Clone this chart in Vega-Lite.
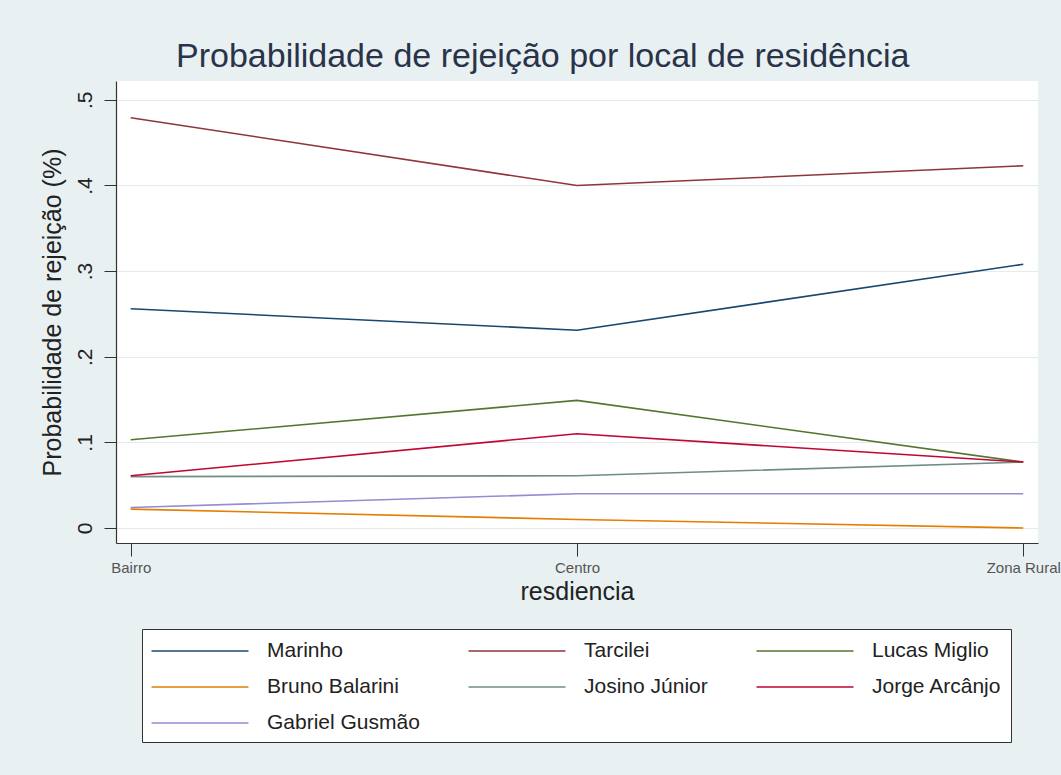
{
  "$schema": "https://vega.github.io/schema/vega-lite/v6.json",
  "autosize": {"type": "none"},
  "width": 922,
  "height": 462,
  "padding": {"left": 116, "top": 81, "right": 23, "bottom": 232},
  "background": "#e8f0f2",
  "config": {
    "font": "Liberation Sans",
    "view": {"fill": "white", "stroke": null}
  },
  "title": {
    "text": "Probabilidade de rejeição por local de residência",
    "fontSize": 34,
    "fontWeight": "normal",
    "color": "#29334a",
    "anchor": "start",
    "frame": "group",
    "dx": 60,
    "offset": 7
  },
  "data": {
    "values": [
      {"candidato": "Marinho", "residencia": "Bairro", "prob": 0.256},
      {"candidato": "Marinho", "residencia": "Centro", "prob": 0.231},
      {"candidato": "Marinho", "residencia": "Zona Rural", "prob": 0.308},
      {"candidato": "Tarcilei", "residencia": "Bairro", "prob": 0.479},
      {"candidato": "Tarcilei", "residencia": "Centro", "prob": 0.4},
      {"candidato": "Tarcilei", "residencia": "Zona Rural", "prob": 0.423},
      {"candidato": "Lucas Miglio", "residencia": "Bairro", "prob": 0.103},
      {"candidato": "Lucas Miglio", "residencia": "Centro", "prob": 0.149},
      {"candidato": "Lucas Miglio", "residencia": "Zona Rural", "prob": 0.077},
      {"candidato": "Bruno Balarini", "residencia": "Bairro", "prob": 0.022},
      {"candidato": "Bruno Balarini", "residencia": "Centro", "prob": 0.01},
      {"candidato": "Bruno Balarini", "residencia": "Zona Rural", "prob": 0.0},
      {"candidato": "Josino Júnior", "residencia": "Bairro", "prob": 0.06},
      {"candidato": "Josino Júnior", "residencia": "Centro", "prob": 0.061},
      {"candidato": "Josino Júnior", "residencia": "Zona Rural", "prob": 0.077},
      {"candidato": "Jorge Arcânjo", "residencia": "Bairro", "prob": 0.061},
      {"candidato": "Jorge Arcânjo", "residencia": "Centro", "prob": 0.11},
      {"candidato": "Jorge Arcânjo", "residencia": "Zona Rural", "prob": 0.077},
      {"candidato": "Gabriel Gusmão", "residencia": "Bairro", "prob": 0.024},
      {"candidato": "Gabriel Gusmão", "residencia": "Centro", "prob": 0.04},
      {"candidato": "Gabriel Gusmão", "residencia": "Zona Rural", "prob": 0.04}
    ]
  },
  "mark": {"type": "line", "strokeWidth": 1.6},
  "encoding": {
    "x": {
      "field": "residencia",
      "type": "ordinal",
      "scale": {"type": "point", "padding": 0.033},
      "axis": {
        "title": "resdiencia",
        "titleFontSize": 25,
        "titleFontWeight": "normal",
        "titleColor": "#222222",
        "titlePadding": 4,
        "labelAngle": 0,
        "labelFontSize": 15,
        "labelColor": "#555555",
        "labelPadding": 4,
        "tickSize": 13,
        "tickColor": "#333333",
        "domainColor": "#333333",
        "domainWidth": 1.2,
        "grid": false
      }
    },
    "y": {
      "field": "prob",
      "type": "quantitative",
      "scale": {"domain": [-0.0175, 0.522], "nice": false, "zero": false},
      "axis": {
        "title": "Probabilidade de rejeição (%)",
        "titleFontSize": 25,
        "titleFontWeight": "normal",
        "titleColor": "#222222",
        "titlePadding": 9,
        "values": [0, 0.1, 0.2, 0.3, 0.4, 0.5],
        "labelExpr": "datum.value === 0 ? '0' : replace(format(datum.value, '.1f'), '0.', '.')",
        "labelAngle": -90,
        "labelAlign": "center",
        "labelBaseline": "bottom",
        "labelFontSize": 21,
        "labelColor": "#222222",
        "labelPadding": 9,
        "tickSize": 12,
        "tickColor": "#333333",
        "domainColor": "#333333",
        "domainWidth": 1.2,
        "grid": true,
        "gridColor": "#e3ebee",
        "gridWidth": 1
      }
    },
    "color": {
      "field": "candidato",
      "type": "nominal",
      "scale": {
        "domain": ["Marinho", "Tarcilei", "Lucas Miglio", "Bruno Balarini", "Josino Júnior", "Jorge Arcânjo", "Gabriel Gusmão"],
        "range": ["#1a476f", "#90353b", "#55752f", "#e37e00", "#6e8e84", "#c10534", "#938dd2"]
      },
      "legend": {
        "title": null,
        "orient": "none",
        "legendX": 26,
        "legendY": 548,
        "direction": "horizontal",
        "columns": 3,
        "columnPadding": 45,
        "rowPadding": 13,
        "padding": 9,
        "fillColor": "white",
        "strokeColor": "#333333",
        "symbolType": "M-4,0H4",
        "symbolSize": 588,
        "symbolOffset": 36,
        "symbolStrokeWidth": 1.6,
        "labelFontSize": 21,
        "labelColor": "#222222",
        "labelOffset": 54,
        "labelLimit": 300
      }
    }
  }
}
